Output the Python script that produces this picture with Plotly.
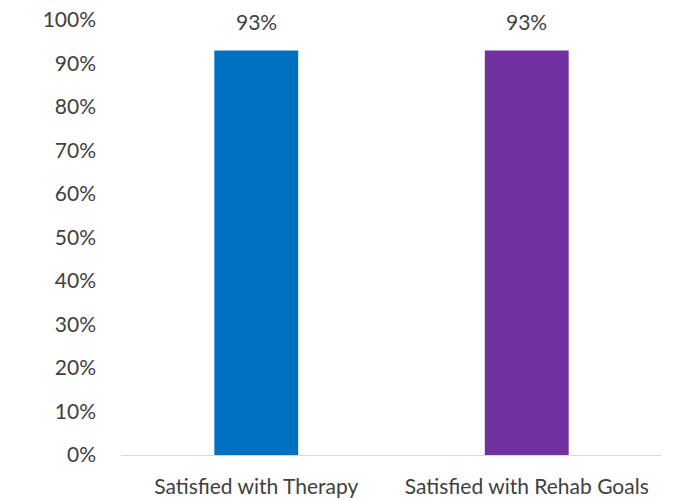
import plotly.graph_objects as go

categories = ["Satisfied with Therapy", "Satisfied with Rehab Goals"]
values = [0.93, 0.93]
colors = ["#0070C0", "#7030A0"]
tick_vals = [i / 10 for i in range(11)]
tick_text = [f"{i*10}%" for i in range(11)]
label_text = [f"{round(v*100)}%" for v in values]

fig = go.Figure(go.Bar(
    x=categories, y=values,
    marker=dict(color=colors, line=dict(width=0)),
    width=0.31,
))

for c, v, t in zip(categories, values, label_text):
    fig.add_annotation(x=c, y=v, text=t, showarrow=False, yanchor="bottom",
                       yshift=14, font=dict(family="Lato, Open Sans, sans-serif",
                                            size=21, color="#404040"))

fig.update_layout(
    width=674, height=500,
    margin=dict(l=121, r=12, t=20, b=45),
    paper_bgcolor="white", plot_bgcolor="white",
    showlegend=False,
    font=dict(family="Lato, Open Sans, sans-serif", color="#404040"),
    xaxis=dict(showline=True, linecolor="#D9D9D9", linewidth=1, ticks="",
               automargin=False, ticklabelstandoff=13, ticklabeloverflow="allow",
               tickfont=dict(size=21, color="#404040"), showgrid=False),
    yaxis=dict(range=[0, 1], tickvals=tick_vals, ticktext=tick_text,
               showgrid=False, zeroline=False, showline=False, automargin=False,
               ticks="", ticklabelstandoff=24, ticklabeloverflow="allow",
               tickfont=dict(size=21, color="#404040")),
)

fig.write_html(
    "out.html",
    config={"displayModeBar": False},
    post_script="document.body.style.margin='0';document.body.style.overflow='hidden';",
)
